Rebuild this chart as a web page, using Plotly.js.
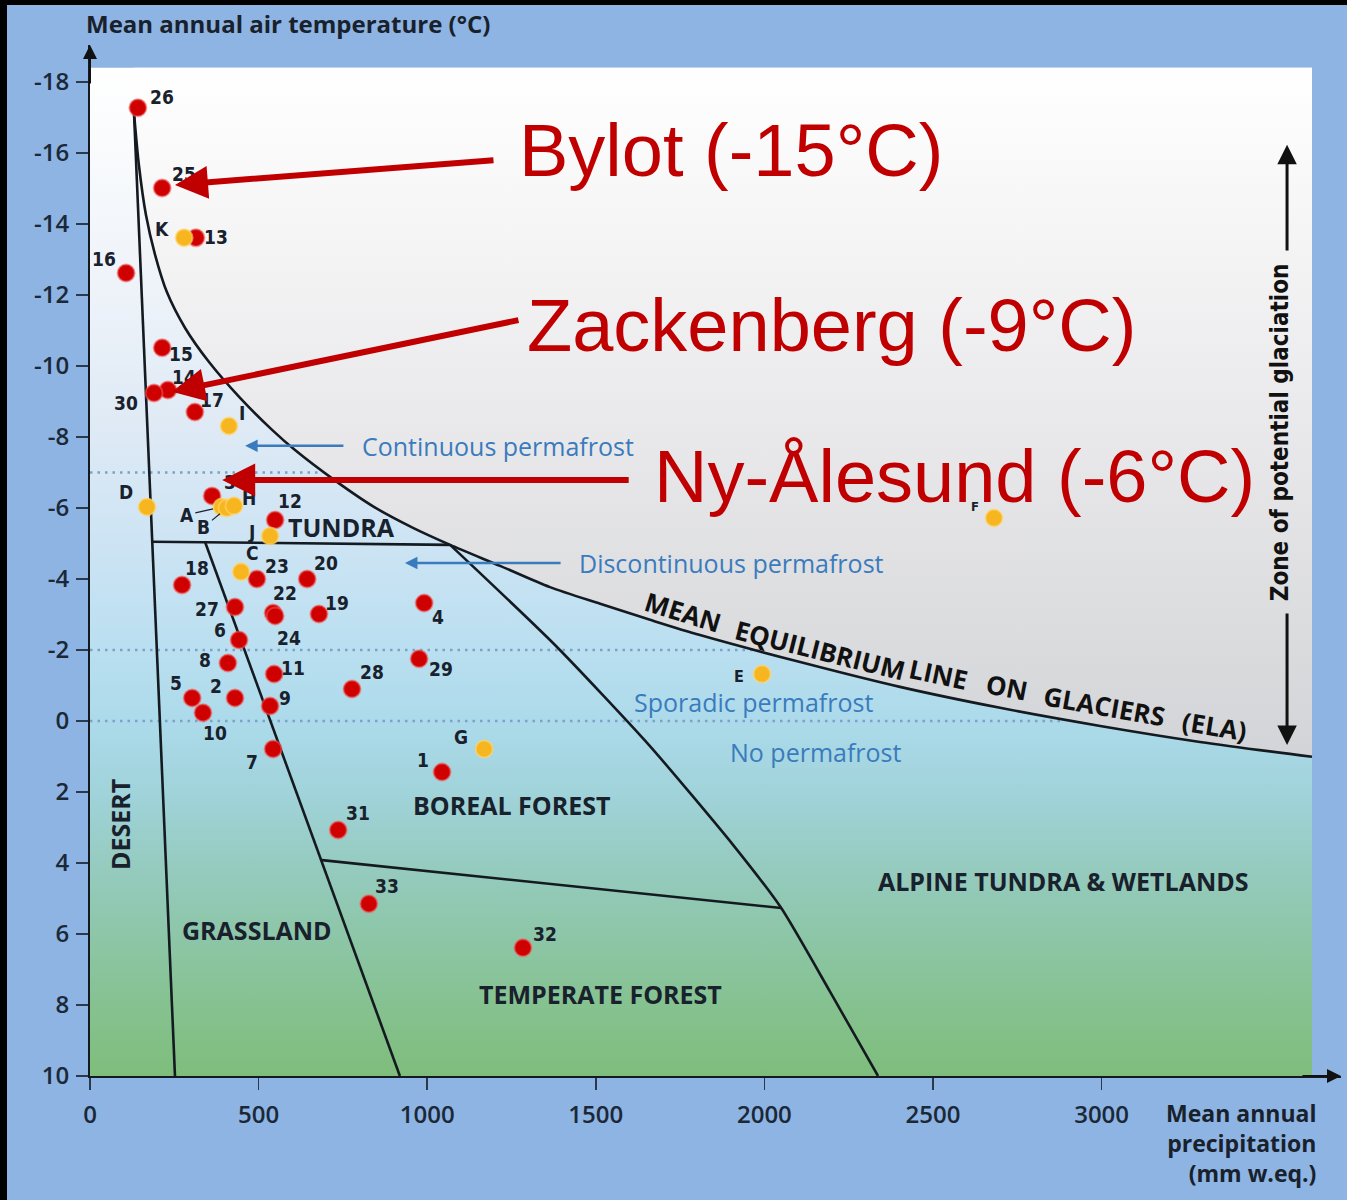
<!DOCTYPE html>
<html><head><meta charset="utf-8">
<script src="https://cdn.plot.ly/plotly-3.0.1.min.js"></script>
<style>
html,body{margin:0;padding:0;background:#000;width:1347px;height:1200px;overflow:hidden}
#chart{position:absolute;left:7px;top:5px;width:1340px;height:1195px}
</style></head><body><div id="chart"></div>
<script>
// ---------------- data ----------------
// stations (red = monitoring sites, orange = lettered sites)
const redIds     = ['26','25','13','16','15','14','30','17','3','12','23','20','18','27','22','24','19','6','8','11','28','2','5','10','9','7','4','29','1','31','33','32'];
const redPrecip  = [142,214,314,107,214,231,190,311,362,549,495,644,273,430,543,549,679,442,409,546,777,430,303,335,534,543,991,976,1044,736,827,1284];
const redTemp    = [-17.27,-15.01,-13.61,-12.62,-10.51,-9.32,-9.24,-8.70,-6.34,-5.66,-4.00,-4.00,-3.83,-3.21,-3.04,-2.96,-3.01,-2.28,-1.63,-1.32,-0.90,-0.65,-0.65,-0.23,-0.42,0.79,-3.32,-1.75,1.44,3.07,5.15,6.39];

const orangeIds    = ['K','I','D','A','B','H','J','C','G','E','F'];
const orangePrecip = [279,412,169,391,406,427,534,448,1169,1993,2681];
const orangeTemp   = [-13.61,-8.31,-6.03,-6.03,-6.00,-6.06,-5.21,-4.20,0.79,-1.32,-5.72];

// boundary lines (mm w.eq., °C)
const elaPrecip = [130.5,145,166,193,228,282,353,445,540,608,724,842,958,1068,1216,1364,1513,1661,1809,2106,2402,2699,2996,3292,3624];
const elaTemp   = [-17.13,-15.66,-14.25,-13.13,-12.08,-11.07,-10.11,-9.10,-8.20,-7.63,-6.79,-6.03,-5.44,-4.96,-4.37,-3.77,-3.30,-2.85,-2.42,-1.66,-0.96,-0.37,0.14,0.59,1.01];
const desertPrecip = [130.5,252];
const desertTemp   = [-17.13,10];
const tundraPrecip = [182,1068];
const tundraTemp   = [-5.05,-4.96];
const grassPrecip  = [341,919];
const grassTemp    = [-5.05,10];
const alpinePrecip = [1068,1379,1658,1907,2050,2195,2337];
const alpineTemp   = [-4.96,-2.14,0.68,3.49,5.27,7.63,10];
const temperatePrecip = [688,2050];
const temperateTemp   = [3.92,5.27];
// permafrost limits (dotted), °C, and where each meets the ELA
const permafrostTemp = [-7,-2,0];
const permafrostEnd  = [690,1984,2890];

// axis ticks
const xTickVals = [0,500,1000,1500,2000,2500,3000];
const xTickText = ['0','500','1000','1500','2000','2500','3000'];
const yTickVals = [-18,-16,-14,-12,-10,-8,-6,-4,-2,0,2,4,6,8,10];
const yTickText = ['-18','-16','-14','-12','-10','-8','-6','-4','-2','0','2','4','6','8','10'];

// extent of the coloured panel
const panelTop = -18.4, panelBottom = 10, panelRight = 3624;

// ---------------- styles ----------------
const labelOffset = {
 '26':[24,-11],'25':[22,-14],'13':[20,-1],'16':[-22,-14],'15':[19,6],'14':[16,-13],'30':[-28,10],
 '17':[17,-12],'3':[18,-14],'12':[15,-19],'23':[20,-13],'20':[19,-16],'18':[15,-17],'27':[-28,2],
 '22':[12,-20],'24':[14,22],'19':[18,-11],'6':[-19,-10],'8':[-23,-3],'11':[19,-6],'28':[20,-17],
 '2':[-19,-12],'5':[-16,-15],'10':[12,20],'9':[15,-8],'7':[-21,13],'4':[14,14],'29':[22,10],
 '1':[-19,-12],'31':[20,-17],'33':[18,-18],'32':[22,-14],
 'K':[-22,-9],'I':[13,-13],'D':[-21,-15],'H':[15,-8],'J':[-19,-4],'C':[11,-19],'G':[-23,-12],'E':[-23,2],'F':[-19,-11]
};
const leaderLabels = {'A':[-35,8],'B':[-23,19]};
const labelSize = {'F':13,'E':16};
const dark = '#18212c';
const labFont = 'DejaVu Sans Condensed, DejaVu Sans, sans-serif';
const mainFont = 'Open Sans, DejaVu Sans, sans-serif';

const traces = [];
// background panel (below ELA)
traces.push({type:'scatter', x:[0,panelRight,panelRight,0,0], y:[panelTop,panelTop,panelBottom,panelBottom,panelTop],
  fill:'toself', mode:'none', hoverinfo:'skip',
  fillgradient:{type:'vertical', start:panelTop, stop:panelBottom,
   colorscale:[[0,'#ffffff'],[0.22,'#eef3f9'],[0.37,'#dde9f5'],[0.47,'#cde4f4'],[0.58,'#b9dff0'],[0.65,'#acdaea'],[0.72,'#a0d3da'],[0.79,'#96cbc0'],[0.86,'#8dc6a8'],[0.93,'#85c290'],[1,'#7fbd7c']]}});
// glaciation zone (above ELA)
traces.push({type:'scatter', x:elaPrecip.concat([panelRight, elaPrecip[0]]), y:elaTemp.concat([panelTop,panelTop]),
  fill:'toself', mode:'none', hoverinfo:'skip',
  fillgradient:{type:'vertical', start:panelTop, stop:elaTemp[elaTemp.length-1],
   colorscale:[[0,'#ffffff'],[0.5,'#eaeaec'],[1,'#d3d4d7']]}});
// dotted permafrost limits
permafrostTemp.forEach((t,i)=>{
  traces.push({type:'scatter', mode:'lines', x:[0,permafrostEnd[i]], y:[t,t], hoverinfo:'skip',
    line:{color:'#7ba3c6', width:2.5, dash:'2.5px,5px'}});
});
// biome boundaries
const bl = {color:'#141a20', width:2.6};
[[desertPrecip,desertTemp],[tundraPrecip,tundraTemp],[grassPrecip,grassTemp],[temperatePrecip,temperateTemp]].forEach(p=>{
  traces.push({type:'scatter', mode:'lines', x:p[0], y:p[1], line:bl, hoverinfo:'skip'});
});
traces.push({type:'scatter', mode:'lines', x:alpinePrecip, y:alpineTemp, line:Object.assign({shape:'spline', smoothing:0.6},bl), hoverinfo:'skip'});
traces.push({type:'scatter', mode:'lines', x:elaPrecip, y:elaTemp, line:Object.assign({shape:'spline', smoothing:0.8},bl), hoverinfo:'skip'});
// stations
traces.push({type:'scatter', mode:'markers', x:redPrecip, y:redTemp, text:redIds, hoverinfo:'text',
  marker:{size:17, color:'#cf0000', line:{color:'rgba(240,90,90,0.55)', width:2}}});
traces.push({type:'scatter', mode:'markers', x:orangePrecip, y:orangeTemp, text:orangeIds, hoverinfo:'text',
  marker:{size:17, color:'#f7b51f', line:{color:'rgba(255,215,110,0.6)', width:2}}});

const ann = [];
function addLabels(ids, xs, ys){
  ids.forEach((id,i)=>{
    const f = {family:labFont, size:labelSize[id]||19, color:dark, weight:'bold'};
    if(leaderLabels[id]){
      const o = leaderLabels[id];
      ann.push({x:xs[i], y:ys[i], text:id, showarrow:true, ax:o[0], ay:o[1], arrowhead:0, arrowwidth:1.2, arrowcolor:dark, standoff:9, font:f});
    } else {
      const o = labelOffset[id] || [15,-10];
      ann.push({x:xs[i], y:ys[i], text:id, showarrow:false, xshift:o[0], yshift:-o[1], font:f});
    }
  });
}
addLabels(redIds, redPrecip, redTemp);
addLabels(orangeIds, orangePrecip, orangeTemp);

// region labels
const regionFont = {family:mainFont, size:25, color:dark, weight:'bold'};
[
 ['TUNDRA',745,-5.46,0],['GRASSLAND',495,5.89,0],['BOREAL FOREST',1249,2.37,0],
 ['TEMPERATE FOREST',1513,7.69,0],['ALPINE TUNDRA &amp; WETLANDS',2886,4.51,0],['DESERT',89,2.93,-90]
].forEach(r=>ann.push({x:r[1], y:r[2], text:r[0], textangle:r[3], showarrow:false, font:regionFont}));
// ELA words along the curve
[
 ['MEAN',1759,-3.07,17],['EQUILIBRIUM',2165,-2.0,14],['LINE',2515,-1.32,12],
 ['ON',2718,-0.96,11],['GLACIERS',3010,-0.42,10],['(ELA)',3336,0.14,9]
].forEach(r=>ann.push({x:r[1], y:r[2], text:r[0], textangle:r[3], showarrow:false,
   font:{family:mainFont, size:26, color:'#111', weight:'bold'}}));
// zone of potential glaciation
ann.push({x:3530, y:-8.14, text:'Zone of potential glaciation', textangle:-90, showarrow:false,
  font:{family:labFont, size:24, color:'#111', weight:'bold'}});
ann.push({x:3550, y:-16.23, ax:3550, ay:-13.21, axref:'x', ayref:'y', text:'', showarrow:true, arrowhead:2, arrowsize:1.3, arrowwidth:3, arrowcolor:'#111', standoff:0});
ann.push({x:3550, y:0.68, ax:3550, ay:-3.07, axref:'x', ayref:'y', text:'', showarrow:true, arrowhead:2, arrowsize:1.3, arrowwidth:3, arrowcolor:'#111', standoff:0});

// permafrost labels
const blue = '#3a7bbd';
const pf = {family:mainFont, size:25, color:blue};
ann.push({x:801, y:-7.75, text:'Continuous permafrost', xanchor:'left', showarrow:false, font:pf});
ann.push({x:460, y:-7.75, ax:756, ay:-7.75, axref:'x', ayref:'y', text:'', showarrow:true, arrowhead:2, arrowsize:1, arrowwidth:2.5, arrowcolor:blue, standoff:0});
ann.push({x:1444, y:-4.45, text:'Discontinuous permafrost', xanchor:'left', showarrow:false, font:pf});
ann.push({x:934, y:-4.45, ax:1400, ay:-4.45, axref:'x', ayref:'y', text:'', showarrow:true, arrowhead:2, arrowsize:1, arrowwidth:2.5, arrowcolor:blue, standoff:0});
ann.push({x:1608, y:-0.53, text:'Sporadic permafrost', xanchor:'left', showarrow:false, font:pf});
ann.push({x:1892, y:0.87, text:'No permafrost', xanchor:'left', showarrow:false, font:pf});

// red call-outs
const red = '#c00000';
const rf = {family:'Liberation Sans, Arial, sans-serif', size:74, color:red};
ann.push({x:1266, y:-16.08, text:'Bylot (-15°C)', xanchor:'left', showarrow:false, font:rf});
ann.push({x:1290, y:-11.15, text:'Zackenberg (-9°C)', xanchor:'left', showarrow:false, font:rf});
ann.push({x:1667, y:-6.90, text:'Ny-Ålesund (-6°C)', xanchor:'left', showarrow:false, font:rf});
[[252,-15.10,1201,-15.80],[243,-9.27,1275,-11.30],[392,-6.79,1602,-6.79]].forEach(a=>{
  ann.push({x:a[0], y:a[1], ax:a[2], ay:a[3], axref:'x', ayref:'y', text:'', showarrow:true, arrowhead:2, arrowsize:1.1, arrowwidth:6, arrowcolor:red, standoff:0});
});

// axis titles and arrow tips
ann.push({xref:'paper', yref:'paper', x:-0.0048, y:1.0204, xanchor:'left', yanchor:'middle', showarrow:false,
  text:'Mean annual air temperature (°C)', font:{family:mainFont, size:24, color:dark, weight:'bold'}});
ann.push({xref:'paper', yref:'paper', x:0.9816, y:-0.065, xanchor:'right', yanchor:'middle', align:'right', showarrow:false,
  text:'Mean annual<br>precipitation<br>(mm w.eq.)', font:{family:mainFont, size:23, color:dark, weight:'bold'}});
ann.push({xref:'paper', yref:'paper', x:0, y:1, ax:0, ay:40, text:'', showarrow:true, arrowhead:2, arrowsize:1.4, arrowwidth:2, arrowcolor:'#111', standoff:0});
ann.push({xref:'paper', yref:'paper', x:1, y:0, ax:-40, ay:0, text:'', showarrow:true, arrowhead:2, arrowsize:1.4, arrowwidth:2, arrowcolor:'#111', standoff:0});

const tickFont = {family:mainFont, size:24, color:'#1b2838', weight:600};
const layout = {
  width:1340, height:1195,
  margin:{l:83, r:6, t:40, b:124},
  paper_bgcolor:'#8db4e2', plot_bgcolor:'#8db4e2',
  showlegend:false,
  xaxis:{range:[0,3710], showgrid:false, zeroline:false, showline:true, linecolor:'#141a20', linewidth:2,
    ticks:'outside', ticklen:12, tickwidth:1.5, tickcolor:'#2a3a4c', tickvals:xTickVals, ticktext:xTickText,
    tickfont:tickFont, ticklabelstandoff:4, fixedrange:true},
  yaxis:{range:[10,-19.04], showgrid:false, zeroline:false, showline:true, linecolor:'#141a20', linewidth:2,
    ticks:'outside', ticklen:12, tickwidth:1.5, tickcolor:'#2a3a4c', tickvals:yTickVals, ticktext:yTickText,
    tickfont:tickFont, ticklabelstandoff:2, fixedrange:true},
  annotations:ann
};
Plotly.newPlot('chart', traces, layout, {displayModeBar:false, staticPlot:true});
</script></body></html>
